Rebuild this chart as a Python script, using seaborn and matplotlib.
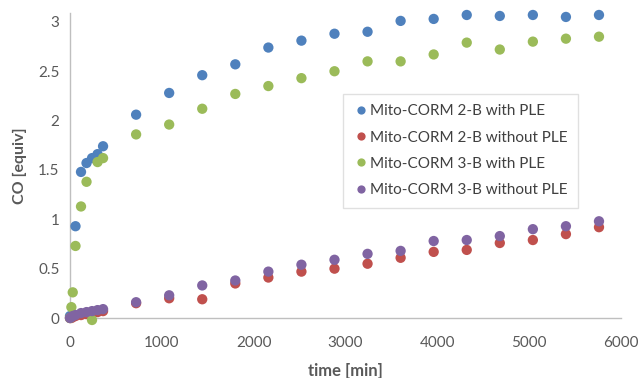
import matplotlib
matplotlib.use("Agg")
import matplotlib.pyplot as plt
import numpy as np
import pandas as pd
import seaborn as sns

nan = np.nan

# time points [min]
time_min = [0, 15, 30, 60, 120, 180, 240, 300, 360,
            720, 1080, 1440, 1800, 2160, 2520, 2880, 3240, 3600,
            3960, 4320, 4680, 5040, 5400, 5760]

corm2_with_ple = [0.02, nan, nan, 0.93, 1.48, 1.57, 1.62, 1.66, 1.74,
                  2.06, 2.28, 2.46, 2.57, 2.74, 2.81, 2.88, 2.90, 3.01,
                  3.03, 3.07, 3.06, 3.07, 3.05, 3.07]
corm2_without_ple = [0.0, 0.0, 0.01, 0.02, 0.03, 0.04, 0.05, 0.06, 0.07,
                     0.15, 0.20, 0.19, 0.35, 0.41, 0.47, 0.50, 0.55, 0.61,
                     0.67, 0.69, 0.76, 0.79, 0.85, 0.92]
corm3_with_ple = [0.0, 0.11, 0.26, 0.73, 1.13, 1.38, -0.02, 1.58, 1.62,
                  1.86, 1.96, 2.12, 2.27, 2.35, 2.43, 2.50, 2.60, 2.60,
                  2.67, 2.79, 2.72, 2.80, 2.83, 2.85]
corm3_without_ple = [0.0, 0.01, 0.02, 0.03, 0.05, 0.06, 0.07, 0.08, 0.09,
                     0.16, 0.23, 0.33, 0.38, 0.47, 0.54, 0.59, 0.65, 0.68,
                     0.78, 0.79, 0.83, 0.90, 0.93, 0.98]

series_names = ["Mito-CORM 2-B with PLE", "Mito-CORM 2-B without PLE",
                "Mito-CORM 3-B with PLE", "Mito-CORM 3-B without PLE"]
colors = ["#4F81BD", "#C0504D", "#9BBB59", "#8064A2"]

df = pd.DataFrame({"time": time_min,
                   series_names[0]: corm2_with_ple,
                   series_names[1]: corm2_without_ple,
                   series_names[2]: corm3_with_ple,
                   series_names[3]: corm3_without_ple})
df_long = df.melt(id_vars="time", var_name="series", value_name="co").dropna()

sns.set_style("white")
plt.rcParams["font.family"] = ["Lato", "DejaVu Sans"]

fig = plt.figure(figsize=(6.38, 3.78), dpi=100)
ax = fig.add_axes([0.1097, 0.1587, 0.8637, 0.8069])

sns.scatterplot(data=df_long, x="time", y="co", hue="series",
                hue_order=series_names, palette=colors, s=55,
                edgecolor="none", ax=ax, clip_on=False, zorder=3)

ax.set_xlim(0, 6000)
ax.set_ylim(0, 3.09)
ax.set_xticks(range(0, 6001, 1000))
ax.set_yticks([0, 0.5, 1, 1.5, 2, 2.5, 3])
ax.set_yticklabels(["0", "0.5", "1", "1.5", "2", "2.5", "3"])

for side in ["top", "right"]:
    ax.spines[side].set_visible(False)
for side in ["left", "bottom"]:
    ax.spines[side].set_color("#BFBFBF")
    ax.spines[side].set_linewidth(1.0)

ax.tick_params(axis="both", direction="out", length=4, width=1,
               color="#BFBFBF", labelcolor="#595959", labelsize=11)
ax.tick_params(axis="x", pad=9)

ax.set_xlabel("time [min]", color="#595959", fontsize=12,
              fontweight="bold", labelpad=9)
ax.set_ylabel("CO [equiv]", color="#595959", fontsize=11.5,
              fontweight="bold", labelpad=8)

leg = ax.legend(loc="upper left", bbox_to_anchor=(335 / 638, 1 - 86 / 378),
                bbox_transform=fig.transFigure, frameon=True, fancybox=False,
                fontsize=11, handletextpad=0.1, labelspacing=0.8,
                borderpad=0.7, handlelength=1.0, markerscale=0.8)
leg.get_frame().set_edgecolor("#D9D9D9")
leg.get_frame().set_linewidth(1.0)
for t in leg.get_texts():
    t.set_color("#404040")

fig.savefig("out.png", dpi=100)
